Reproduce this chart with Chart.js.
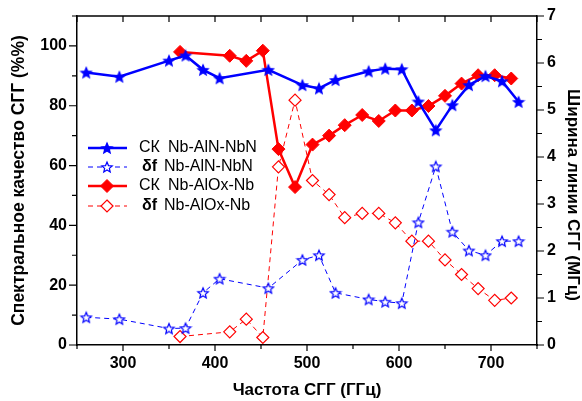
<!DOCTYPE html>
<html>
<head>
<meta charset="utf-8">
<script src="https://cdn.jsdelivr.net/npm/chart.js@4.4.1/dist/chart.umd.min.js"></script>
<style>
  body { margin: 0; background: #fff; }
  canvas { display: block; }
</style>
</head>
<body>
<canvas id="sggChart" width="582" height="401"></canvas>
<script>
// frequencies (GHz) and values
var freqAlN = [260, 296, 350, 368, 387, 405, 458, 495, 513, 531, 567, 585, 603, 621, 640, 658, 676, 694, 712, 730];
var qualityAlN = [91.1, 89.7, 95.1, 96.8, 92.0, 89.2, 92.0, 86.9, 85.8, 88.6, 91.5, 92.4, 92.2, 81.4, 71.8, 80.2, 86.9, 89.9, 88.2, 81.3];
var widthAlN = [0.59, 0.55, 0.35, 0.36, 1.11, 1.41, 1.21, 1.81, 1.91, 1.11, 0.97, 0.92, 0.89, 2.61, 3.80, 2.41, 2.01, 1.91, 2.21, 2.21];

var freqAlOx = [362, 416, 434, 452, 469, 487, 506, 524, 541, 560, 578, 596, 614, 632, 650, 668, 686, 704, 722];
var qualityAlOx = [98.0, 96.7, 95.0, 98.4, 65.5, 52.8, 67.0, 70.0, 73.5, 76.9, 74.9, 78.4, 78.4, 79.9, 83.3, 87.4, 90.2, 90.2, 89.1];
var widthAlOx = [0.18, 0.28, 0.55, 0.16, 3.79, 5.21, 3.50, 3.20, 2.71, 2.80, 2.80, 2.60, 2.21, 2.21, 1.81, 1.50, 1.20, 0.95, 1.00];

var legendLabels = ['Nb-AlN-NbN', 'Nb-AlN-NbN', 'Nb-AlOx-Nb', 'Nb-AlOx-Nb'];
var legendPrefix = ['СК', 'δf', 'СК', 'δf'];
var rightTitle = 'Ширина линии СГГ (МГц)';

var FONT = 'Arial, "Liberation Sans", sans-serif';
var BLUE = '#0000ff';
var RED = '#ff0000';

function pts(xs, ys) {
    var out = [];
    for (var i = 0; i < xs.length; i++) out.push({x: xs[i], y: ys[i]});
    return out;
}

// five point star as an image for pointStyle
function makeStar(fill, stroke, r) {
    var c = document.createElement('canvas');
    var s = Math.ceil(r * 2 + 3);
    c.width = s; c.height = s;
    var g = c.getContext('2d');
    g.translate(s / 2, s / 2 + 0.6);
    g.beginPath();
    for (var i = 0; i < 10; i++) {
        var rr = i % 2 === 0 ? r : r * 0.45;
        var a = -Math.PI / 2 + i * Math.PI / 5;
        g.lineTo(rr * Math.cos(a), rr * Math.sin(a));
    }
    g.closePath();
    g.fillStyle = fill;
    g.fill();
    g.lineWidth = 1.2;
    g.strokeStyle = stroke;
    g.stroke();
    return c;
}

var starFull = makeStar(BLUE, BLUE, 5.5);
var starOpen = makeStar('#fff', BLUE, 5.5);

// vertical axes: fixed width, no extra label padding at the ends
function fitVertical(w) {
    return function (s) {
        s.width = w;
        s.paddingTop = 0;
        s.paddingBottom = 0;
    };
}

// axis ticks (major / minor), top mirror axis, right title
var tickPlugin = {
    id: 'ticksDraw',
    afterDraw: function (chart) {
        var ctx = chart.ctx;
        var a = chart.chartArea;
        var sx = chart.scales.x, sy = chart.scales.y, sy2 = chart.scales.y2;
        ctx.save();
        ctx.strokeStyle = '#000';
        ctx.lineWidth = 1.5;
        ctx.beginPath();
        ctx.moveTo(a.left, a.top); ctx.lineTo(a.right, a.top);
        ctx.stroke();
        ctx.lineWidth = 1.2;
        ctx.beginPath();
        sx.ticks.forEach(function (t) {
            var px = sx.getPixelForValue(t.value);
            var major = t.value % 100 === 0;
            ctx.moveTo(px, a.bottom); ctx.lineTo(px, a.bottom + (major ? 6 : 4));
            ctx.moveTo(px, a.top); ctx.lineTo(px, a.top + 6);
        });
        sy.ticks.forEach(function (t) {
            var py = sy.getPixelForValue(t.value);
            var major = t.value % 20 === 0;
            ctx.moveTo(a.left, py); ctx.lineTo(a.left - (major ? 8 : 5), py);
        });
        sy2.ticks.forEach(function (t) {
            var py = sy2.getPixelForValue(t.value);
            var major = Math.abs(t.value - Math.round(t.value)) < 1e-6;
            ctx.moveTo(a.right, py); ctx.lineTo(a.right + (major ? 7 : 5), py);
        });
        ctx.stroke();

        ctx.translate(573, 195);
        ctx.rotate(Math.PI / 2);
        ctx.fillStyle = '#000';
        ctx.font = 'bold 17px ' + FONT;
        ctx.textAlign = 'center';
        ctx.textBaseline = 'middle';
        ctx.fillText(rightTitle, 0, 0);
        ctx.restore();
    }
};

// legend inside plot area
var legendPlugin = {
    id: 'innerLegend',
    afterDraw: function (chart) {
        var ctx = chart.ctx;
        var rows = [148, 167, 186, 206];
        ctx.save();
        for (var i = 0; i < 4; i++) {
            var ds = chart.data.datasets[i];
            var y = rows[i];
            ctx.strokeStyle = ds.borderColor;
            ctx.lineWidth = ds.borderWidth;
            ctx.setLineDash(ds.borderDash || []);
            ctx.beginPath();
            ctx.moveTo(88, y); ctx.lineTo(127, y);
            ctx.stroke();
            ctx.setLineDash([]);
            if (typeof ds.pointStyle === 'string') {
                ctx.fillStyle = ds.pointBackgroundColor;
                ctx.strokeStyle = ds.pointBorderColor;
                ctx.lineWidth = ds.pointBorderWidth;
                ctx.beginPath();
                var r = ds.pointRadius;
                ctx.moveTo(107, y - r); ctx.lineTo(107 + r, y); ctx.lineTo(107, y + r); ctx.lineTo(107 - r, y);
                ctx.closePath();
                ctx.fill(); ctx.stroke();
            } else {
                ctx.drawImage(ds.pointStyle, 107 - ds.pointStyle.width / 2, y - ds.pointStyle.height / 2);
            }
            ctx.fillStyle = '#000';
            ctx.textBaseline = 'middle';
            ctx.textAlign = 'left';
            if (legendPrefix[i] === 'СК') {
                ctx.font = '16px ' + FONT;
                ctx.fillText(legendPrefix[i], 139, y);
                ctx.fillText(legendLabels[i], 168, y);
            } else {
                ctx.font = 'bold 16px ' + FONT;
                ctx.fillText(legendPrefix[i], 142, y);
                ctx.font = '16px ' + FONT;
                ctx.fillText(legendLabels[i], 164, y);
            }
        }
        ctx.restore();
    }
};

var sggChart = new Chart(document.getElementById('sggChart'), {
    type: 'line',
    data: {
        datasets: [
            {
                label: 'СК Nb-AlN-NbN',
                data: pts(freqAlN, qualityAlN),
                yAxisID: 'y',
                borderColor: BLUE,
                borderWidth: 2.5,
                pointStyle: starFull,
                pointRadius: 6,
                pointBorderWidth: 1
            },
            {
                label: 'δf Nb-AlN-NbN',
                data: pts(freqAlN, widthAlN),
                yAxisID: 'y2',
                borderColor: BLUE,
                borderWidth: 1,
                borderDash: [5, 4],
                pointStyle: starOpen,
                pointRadius: 6,
                pointBorderWidth: 1
            },
            {
                label: 'СК Nb-AlOx-Nb',
                data: pts(freqAlOx, qualityAlOx),
                yAxisID: 'y',
                borderColor: RED,
                borderWidth: 2.5,
                pointStyle: 'rectRot',
                pointRadius: 6.5,
                pointBackgroundColor: RED,
                pointBorderColor: RED,
                pointBorderWidth: 1
            },
            {
                label: 'δf Nb-AlOx-Nb',
                data: pts(freqAlOx, widthAlOx),
                yAxisID: 'y2',
                borderColor: RED,
                borderWidth: 1,
                borderDash: [5, 4],
                pointStyle: 'rectRot',
                pointRadius: 6,
                pointBackgroundColor: '#fff',
                pointBorderColor: RED,
                pointBorderWidth: 1.2
            }
        ]
    },
    options: {
        responsive: false,
        animation: false,
        layout: {padding: {top: 16, left: 0, right: 0, bottom: 0}},
        plugins: {
            legend: {display: false},
            tooltip: {enabled: false}
        },
        scales: {
            x: {
                type: 'linear',
                min: 250,
                max: 750,
                afterFit: function (s) { s.height = 56; },
                grid: {display: false, drawTicks: false},
                border: {display: true, color: '#000', width: 1.5},
                ticks: {
                    stepSize: 50,
                    padding: 9,
                    color: '#000',
                    font: {family: FONT, size: 16, weight: 'bold'},
                    maxRotation: 0,
                    autoSkip: false,
                    callback: function (v) { return v % 100 === 0 ? v : ''; }
                },
                title: {
                    display: true,
                    text: 'Частота СГГ (ГГц)',
                    color: '#000',
                    font: {family: FONT, size: 17, weight: 'bold'},
                    padding: {top: 0, bottom: 0}
                }
            },
            y: {
                position: 'left',
                min: 0,
                max: 110,
                afterFit: fitVertical(77),
                grid: {display: false, drawTicks: false},
                border: {display: true, color: '#000', width: 1.5},
                ticks: {
                    stepSize: 10,
                    padding: 10,
                    color: '#000',
                    font: {family: FONT, size: 16, weight: 'bold'},
                    autoSkip: false,
                    callback: function (v) { return (v % 20 === 0 && v <= 100) ? v : ''; }
                },
                title: {
                    display: true,
                    text: 'Спектральное качество СГГ (%%)',
                    color: '#000',
                    font: {family: FONT, size: 17.5, weight: 'bold'},
                    padding: {top: 9, bottom: 0}
                }
            },
            y2: {
                position: 'right',
                min: 0,
                max: 7,
                afterFit: fitVertical(45),
                grid: {display: false, drawTicks: false},
                border: {display: true, color: '#000', width: 1.5},
                ticks: {
                    stepSize: 0.5,
                    padding: 10,
                    color: '#000',
                    font: {family: FONT, size: 16, weight: 'bold'},
                    autoSkip: false,
                    callback: function (v) { return Number.isInteger(v) ? v : ''; }
                }
            }
        }
    },
    plugins: [tickPlugin, legendPlugin]
});
</script>
</body>
</html>
